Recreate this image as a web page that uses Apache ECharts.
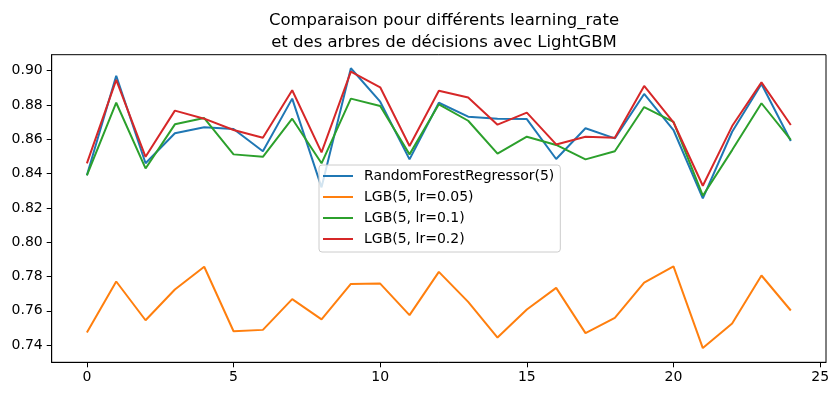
<!DOCTYPE html>
<html>
<head>
<meta charset="utf-8">
<script src="https://cdn.jsdelivr.net/npm/echarts@6/dist/echarts.min.js"></script>
<style>html,body{margin:0;padding:0;background:#fff;}#c{width:838px;height:396px;}</style>
</head>
<body>
<div id="c"></div>
<script>
const xValues = [0,1,2,3,4,5,6,7,8,9,10,11,12,13,14,15,16,17,18,19,20,21,22,23,24];
const seriesNames = ['RandomForestRegressor(5)', 'LGB(5, lr=0.05)', 'LGB(5, lr=0.1)', 'LGB(5, lr=0.2)'];
const rf    = [0.839,0.897,0.846,0.8635,0.867,0.866,0.853,0.8837,0.832,0.9014,0.8819,0.8483,0.8813,0.8732,0.872,0.8718,0.8485,0.8664,0.8605,0.8864,0.8654,0.8255,0.8644,0.8922,0.859];
const lgb05 = [0.7474,0.7771,0.7545,0.7724,0.7857,0.7481,0.7489,0.7668,0.7550,0.7757,0.7759,0.7575,0.7827,0.7652,0.7444,0.7608,0.7734,0.7470,0.7559,0.7765,0.7859,0.7383,0.7526,0.7806,0.7602];
const lgb1  = [0.839,0.8813,0.843,0.8687,0.8724,0.8512,0.8498,0.872,0.846,0.8837,0.8794,0.8512,0.8804,0.8708,0.8516,0.8615,0.8567,0.8483,0.853,0.8788,0.8702,0.8271,0.8537,0.881,0.8596];
const lgb2  = [0.846,0.8946,0.8498,0.8767,0.872,0.8654,0.8609,0.8886,0.8524,0.8994,0.8903,0.8561,0.8883,0.8843,0.8685,0.8755,0.857,0.8615,0.8609,0.8911,0.8699,0.8329,0.8677,0.8932,0.8683];
const xTicks = [0,5,10,15,20,25];
const yTicks = [0.74,0.76,0.78,0.80,0.82,0.84,0.86,0.88,0.90];
const titleText = 'Comparaison pour différents learning_rate\net des arbres de décisions avec LightGBM';

const colors = ['#1f77b4','#ff7f0e','#2ca02c','#d62728'];
const allValues = [rf, lgb05, lgb1, lgb2];
const font = 'DejaVu Sans';

const chart = echarts.init(document.getElementById('c'), null, {renderer:'canvas'});
chart.setOption({
  animation: false,
  backgroundColor: '#fff',
  title: {
    text: titleText,
    left: 439, top: 5, textAlign: 'center',
    textStyle: {fontFamily: font, fontSize: 16.5, fontWeight: 'normal', color: '#000', lineHeight: 21.5}
  },
  grid: {left: 51.7, right: 12, top: 54.7, bottom: 33.7, show: true, borderColor: '#000', borderWidth: 1, backgroundColor: 'transparent'},
  legend: {
    orient: 'vertical', left: 319, top: 165,
    data: seriesNames.map(n => ({name: n, icon: 'rect'})),
    itemWidth: 30, itemHeight: 2, itemGap: 7,
    padding: [4, 6, 6, 4],
    backgroundColor: 'rgba(255,255,255,0.8)',
    borderColor: '#cccccc', borderWidth: 1, borderRadius: 3,
    textStyle: {fontFamily: font, fontSize: 14, lineHeight: 14, color: '#000', padding: [0,0,0,6]}
  },
  xAxis: {
    type: 'value', min: -1.2, max: 25.2,
    axisLine: {show: true, onZero: false, lineStyle: {color: '#000', width: 1}},
    splitLine: {show: false},
    axisTick: {show: true, inside: false, length: 5, lineStyle: {color: '#000', width: 1}, customValues: xTicks},
    axisLabel: {customValues: xTicks, color: '#000', fontFamily: font, fontSize: 14, margin: 8}
  },
  yAxis: {
    type: 'value', min: 0.7300, max: 0.9093,
    axisLine: {show: true, onZero: false, lineStyle: {color: '#000', width: 1}},
    splitLine: {show: false},
    axisTick: {show: true, inside: false, length: 5, lineStyle: {color: '#000', width: 1}, customValues: yTicks},
    axisLabel: {customValues: yTicks, color: '#000', fontFamily: font, fontSize: 14, margin: 9,
      formatter: v => v.toFixed(2)}
  },
  series: seriesNames.map((name, i) => ({
    name: name,
    type: 'line',
    symbol: 'none',
    showSymbol: false,
    color: colors[i],
    itemStyle: {color: colors[i]},
    lineStyle: {width: 2, color: colors[i]},
    data: xValues.map((x, j) => [x, allValues[i][j]]),
    z: 2 + i
  }))
});
</script>
</body>
</html>
